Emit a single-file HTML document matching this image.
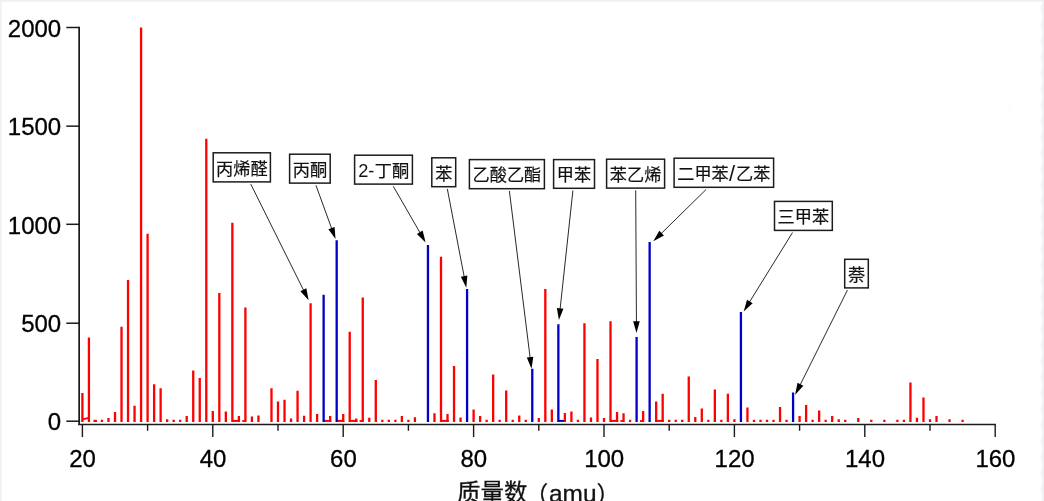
<!DOCTYPE html>
<html><head><meta charset="utf-8"><title>Mass spectrum</title>
<style>
html,body{margin:0;padding:0;background:#fff;}
body{width:1044px;height:501px;overflow:hidden;position:relative;font-family:"Liberation Sans",sans-serif;}
</style></head><body>
<svg width="1044" height="501" viewBox="0 0 1044 501" style="position:absolute;left:0;top:0;will-change:transform"><rect x="0" y="0" width="1044" height="501" fill="#eef0f2"/><rect x="1.6" y="1.8" width="1040.7" height="501" fill="#ffffff"/><path d="M232.36 420.9H240.03" stroke="#ff0000" stroke-width="2" fill="none"/><path d="M323.64 420.9H331.31" stroke="#ff0000" stroke-width="2" fill="none"/><path d="M336.68 420.9H344.35" stroke="#ff0000" stroke-width="2" fill="none"/><path d="M349.72 420.9H357.39" stroke="#ff0000" stroke-width="2" fill="none"/><path d="M441.00 420.9H448.67" stroke="#ff0000" stroke-width="2" fill="none"/><path d="M558.36 420.9H566.03" stroke="#0000c8" stroke-width="2" fill="none"/><path d="M610.52 420.9H618.19" stroke="#ff0000" stroke-width="2" fill="none"/><path d="M656.16 420.9H663.83" stroke="#ff0000" stroke-width="2" fill="none"/><path d="M242.20 421.0H245.40" stroke="#ff0000" stroke-width="1.8" fill="none"/><path d="M359.56 421.0H362.76" stroke="#ff0000" stroke-width="1.8" fill="none"/><path d="M620.36 421.0H623.56" stroke="#ff0000" stroke-width="1.8" fill="none"/><path d="M639.92 421.0H643.12" stroke="#ff0000" stroke-width="1.8" fill="none"/><path d="M82.40 422.0V393.05M88.92 422.0V337.54M95.44 422.0V419.63M101.96 422.0V419.80M108.48 422.0V418.05M115.00 422.0V411.95M121.52 422.0V326.71M128.04 422.0V280.06M134.56 422.0V405.65M141.08 422.0V27.50M147.60 422.0V233.80M154.12 422.0V384.19M160.64 422.0V388.13M167.16 422.0V419.23M173.68 422.0V419.80M180.20 422.0V419.80M186.72 422.0V416.08M193.24 422.0V370.61M199.76 422.0V378.09M206.28 422.0V138.72M212.80 422.0V410.96M219.32 422.0V293.05M225.84 422.0V411.55M232.36 422.0V222.78M238.88 422.0V416.08M245.40 422.0V307.42M251.92 422.0V416.48M258.44 422.0V415.49M271.48 422.0V388.13M278.00 422.0V401.51M284.52 422.0V399.74M291.04 422.0V418.44M297.56 422.0V390.69M304.08 422.0V415.69M310.60 422.0V303.29M317.12 422.0V414.11M330.16 422.0V416.08M343.20 422.0V414.11M349.72 422.0V331.83M356.24 422.0V418.44M362.76 422.0V297.38M369.28 422.0V417.66M375.80 422.0V380.06M382.32 422.0V419.80M388.84 422.0V419.80M395.36 422.0V419.80M401.88 422.0V416.08M408.40 422.0V419.80M414.92 422.0V417.26M434.48 422.0V413.33M441.00 422.0V256.63M447.52 422.0V414.11M454.04 422.0V366.08M460.56 422.0V417.46M473.60 422.0V409.59M480.12 422.0V416.08M486.64 422.0V419.80M493.16 422.0V374.55M499.68 422.0V419.63M506.20 422.0V390.49M512.72 422.0V419.80M519.24 422.0V415.49M525.76 422.0V419.80M538.80 422.0V418.05M545.32 422.0V288.92M551.84 422.0V409.59M564.88 422.0V412.93M571.40 422.0V411.55M577.92 422.0V419.80M584.44 422.0V323.17M590.96 422.0V417.46M597.48 422.0V359.00M604.00 422.0V418.05M610.52 422.0V321.20M617.04 422.0V411.95M623.56 422.0V413.33M630.08 422.0V419.63M643.12 422.0V410.96M656.16 422.0V401.51M662.68 422.0V393.64M669.20 422.0V419.63M675.72 422.0V419.80M682.24 422.0V419.80M688.76 422.0V376.52M695.28 422.0V417.07M701.80 422.0V408.60M708.32 422.0V419.80M714.84 422.0V389.51M721.36 422.0V419.80M727.88 422.0V393.64M734.40 422.0V419.23M747.44 422.0V407.62M753.96 422.0V419.80M760.48 422.0V419.80M767.00 422.0V419.80M773.52 422.0V419.80M780.04 422.0V407.03M786.56 422.0V419.80M799.60 422.0V416.08M806.12 422.0V405.06M812.64 422.0V419.63M819.16 422.0V410.57M825.68 422.0V419.80M832.20 422.0V416.08M838.72 422.0V419.23M845.24 422.0V419.80M858.28 422.0V418.05M871.32 422.0V419.80M884.36 422.0V419.80M897.40 422.0V419.80M903.92 422.0V419.80M910.44 422.0V382.62M916.96 422.0V417.66M923.48 422.0V397.58M930.00 422.0V419.23M936.52 422.0V416.08M949.56 422.0V419.23M962.60 422.0V419.80" stroke="#ff0000" stroke-width="2.3" fill="none" stroke-linecap="butt"/><path d="M323.64 422.0V294.63M336.68 422.0V240.29M427.96 422.0V245.02M467.08 422.0V289.11M532.28 422.0V368.64M558.36 422.0V324.35M636.60 422.0V336.95M649.64 422.0V242.07M740.92 422.0V311.95M793.08 422.0V392.46" stroke="#0000c8" stroke-width="2.3" fill="none" stroke-linecap="butt"/><path d="M82.40 419.4L88.92 417.8" stroke="#ff0000" stroke-width="1.8" fill="none"/><path d="M93.44 421.0H96.94" stroke="#ff0000" stroke-width="2" fill="none"/><path d="M79.15 26.8V425.09999999999997" stroke="#1a1a1a" stroke-width="1.7" fill="none"/><path d="M78.30000000000001 424.45H995.9" stroke="#1a1a1a" stroke-width="1.4" fill="none"/><path d="M66.3 421.20H79.15" stroke="#1a1a1a" stroke-width="1.5" fill="none"/><path d="M66.3 323.20H79.15" stroke="#1a1a1a" stroke-width="1.5" fill="none"/><path d="M66.3 224.30H79.15" stroke="#1a1a1a" stroke-width="1.5" fill="none"/><path d="M66.3 126.15H79.15" stroke="#1a1a1a" stroke-width="1.5" fill="none"/><path d="M66.3 27.50H79.15" stroke="#1a1a1a" stroke-width="1.5" fill="none"/><path d="M82.40 424.45V437.05" stroke="#1a1a1a" stroke-width="1.4" fill="none"/><path d="M147.60 424.45V430.75" stroke="#1a1a1a" stroke-width="1.4" fill="none"/><path d="M212.80 424.45V437.05" stroke="#1a1a1a" stroke-width="1.4" fill="none"/><path d="M278.00 424.45V430.75" stroke="#1a1a1a" stroke-width="1.4" fill="none"/><path d="M343.20 424.45V437.05" stroke="#1a1a1a" stroke-width="1.4" fill="none"/><path d="M408.40 424.45V430.75" stroke="#1a1a1a" stroke-width="1.4" fill="none"/><path d="M473.60 424.45V437.05" stroke="#1a1a1a" stroke-width="1.4" fill="none"/><path d="M538.80 424.45V430.75" stroke="#1a1a1a" stroke-width="1.4" fill="none"/><path d="M604.00 424.45V437.05" stroke="#1a1a1a" stroke-width="1.4" fill="none"/><path d="M669.20 424.45V430.75" stroke="#1a1a1a" stroke-width="1.4" fill="none"/><path d="M734.40 424.45V437.05" stroke="#1a1a1a" stroke-width="1.4" fill="none"/><path d="M799.60 424.45V430.75" stroke="#1a1a1a" stroke-width="1.4" fill="none"/><path d="M864.80 424.45V437.05" stroke="#1a1a1a" stroke-width="1.4" fill="none"/><path d="M930.00 424.45V430.75" stroke="#1a1a1a" stroke-width="1.4" fill="none"/><path d="M995.20 424.45V437.05" stroke="#1a1a1a" stroke-width="1.4" fill="none"/><g font-family="Liberation Sans, sans-serif" font-size="24.0" fill="#000" stroke="#000" stroke-width="0.3"><text x="61.2" y="430.40" text-anchor="end">0</text><text x="61.2" y="332.40" text-anchor="end">500</text><text x="61.2" y="233.50" text-anchor="end">1000</text><text x="61.2" y="135.35" text-anchor="end">1500</text><text x="61.2" y="36.70" text-anchor="end">2000</text><text x="82.60" y="467.3" text-anchor="middle">20</text><text x="213.00" y="467.3" text-anchor="middle">40</text><text x="343.40" y="467.3" text-anchor="middle">60</text><text x="473.80" y="467.3" text-anchor="middle">80</text><text x="604.20" y="467.3" text-anchor="middle">100</text><text x="734.60" y="467.3" text-anchor="middle">120</text><text x="865.00" y="467.3" text-anchor="middle">140</text><text x="995.40" y="467.3" text-anchor="middle">160</text></g><path d="M250.75 184.10L304.28 291.62" stroke="#111" stroke-width="0.9" fill="none"/><path d="M308.60 300.30L300.43 291.30L306.34 288.36Z" fill="#000"/><path d="M315.95 185.30L332.19 229.98" stroke="#111" stroke-width="0.9" fill="none"/><path d="M335.50 239.10L328.40 229.23L334.61 226.98Z" fill="#000"/><path d="M393.30 186.30L420.76 233.99" stroke="#111" stroke-width="0.9" fill="none"/><path d="M425.60 242.40L416.90 233.91L422.62 230.61Z" fill="#000"/><path d="M447.33 188.90L464.47 278.17" stroke="#111" stroke-width="0.9" fill="none"/><path d="M466.30 287.70L460.85 276.83L467.34 275.59Z" fill="#000"/><path d="M509.39 190.90L530.30 359.17" stroke="#111" stroke-width="0.9" fill="none"/><path d="M531.50 368.80L526.78 357.60L533.33 356.78Z" fill="#000"/><path d="M572.92 190.50L559.94 310.46" stroke="#111" stroke-width="0.9" fill="none"/><path d="M558.90 320.10L556.88 308.11L563.44 308.82Z" fill="#000"/><path d="M635.70 190.30L636.45 323.20" stroke="#111" stroke-width="0.9" fill="none"/><path d="M636.50 332.90L633.13 321.22L639.73 321.18Z" fill="#000"/><path d="M706.09 189.50L660.22 234.51" stroke="#111" stroke-width="0.9" fill="none"/><path d="M653.30 241.30L659.34 230.75L663.96 235.46Z" fill="#000"/><path d="M792.47 232.60L748.80 303.15" stroke="#111" stroke-width="0.9" fill="none"/><path d="M743.70 311.40L747.05 299.71L752.66 303.19Z" fill="#000"/><path d="M847.45 290.10L799.53 386.12" stroke="#111" stroke-width="0.9" fill="none"/><path d="M795.20 394.80L797.47 382.86L803.38 385.80Z" fill="#000"/><rect x="213.20" y="152.80" width="57.20" height="29.10" fill="#fff" stroke="#1c1c1c" stroke-width="1.5"/><text font-family="Liberation Sans, Noto Sans CJK SC, sans-serif" font-size="17.2" x="216.00" y="174.64" fill="#111" stroke="#111" stroke-width="0.2">丙烯醛</text><rect x="289.60" y="154.20" width="40.60" height="28.90" fill="#fff" stroke="#1c1c1c" stroke-width="1.5"/><text font-family="Liberation Sans, Noto Sans CJK SC, sans-serif" font-size="17.2" x="292.70" y="175.94" fill="#111" stroke="#111" stroke-width="0.2">丙酮</text><rect x="354.60" y="155.20" width="57.80" height="28.90" fill="#fff" stroke="#1c1c1c" stroke-width="1.5"/><text font-family="Liberation Sans, sans-serif" font-size="18.23" x="363.26" y="176.64" text-anchor="middle" fill="#111">2</text><text font-family="Liberation Sans, sans-serif" font-size="18.23" x="371.29" y="176.64" text-anchor="middle" fill="#111">-</text><text font-family="Liberation Sans, Noto Sans CJK SC, sans-serif" font-size="17.2" x="374.73" y="176.94" fill="#111" stroke="#111" stroke-width="0.2">丁酮</text><rect x="431.80" y="157.80" width="23.90" height="28.90" fill="#fff" stroke="#1c1c1c" stroke-width="1.5"/><text font-family="Liberation Sans, Noto Sans CJK SC, sans-serif" font-size="17.2" x="435.15" y="179.54" fill="#111" stroke="#111" stroke-width="0.2">苯</text><rect x="469.40" y="159.60" width="75.00" height="29.10" fill="#fff" stroke="#1c1c1c" stroke-width="1.5"/><text font-family="Liberation Sans, Noto Sans CJK SC, sans-serif" font-size="17.2" x="472.50" y="181.44" fill="#111" stroke="#111" stroke-width="0.2">乙酸乙酯</text><rect x="553.60" y="159.60" width="40.90" height="28.70" fill="#fff" stroke="#1c1c1c" stroke-width="1.5"/><text font-family="Liberation Sans, Noto Sans CJK SC, sans-serif" font-size="17.2" x="556.85" y="181.24" fill="#111" stroke="#111" stroke-width="0.2">甲苯</text><rect x="606.60" y="159.20" width="58.00" height="28.90" fill="#fff" stroke="#1c1c1c" stroke-width="1.5"/><text font-family="Liberation Sans, Noto Sans CJK SC, sans-serif" font-size="17.2" x="609.80" y="180.94" fill="#111" stroke="#111" stroke-width="0.2">苯乙烯</text><rect x="674.10" y="158.20" width="99.50" height="29.10" fill="#fff" stroke="#1c1c1c" stroke-width="1.5"/><text font-family="Liberation Sans, Noto Sans CJK SC, sans-serif" font-size="17.2" x="677.24" y="180.04" fill="#111" stroke="#111" stroke-width="0.2">二甲苯</text><text font-family="Liberation Sans, sans-serif" font-size="21.84" x="732.15" y="181.44" text-anchor="middle" fill="#111">/</text><text font-family="Liberation Sans, Noto Sans CJK SC, sans-serif" font-size="17.2" x="736.06" y="180.04" fill="#111" stroke="#111" stroke-width="0.2">乙苯</text><rect x="774.50" y="201.40" width="57.80" height="29.00" fill="#fff" stroke="#1c1c1c" stroke-width="1.5"/><text font-family="Liberation Sans, Noto Sans CJK SC, sans-serif" font-size="17.2" x="777.60" y="223.19" fill="#111" stroke="#111" stroke-width="0.2">三甲苯</text><rect x="844.70" y="259.30" width="23.60" height="28.60" fill="#fff" stroke="#1c1c1c" stroke-width="1.5"/><text font-family="Liberation Sans, Noto Sans CJK SC, sans-serif" font-size="17.2" x="847.90" y="280.89" fill="#111" stroke="#111" stroke-width="0.2">萘</text><text font-family="Liberation Sans, Noto Sans CJK SC, sans-serif" font-size="23.5" x="456.90" y="500.80" fill="#111" stroke="#111" stroke-width="0.3">质量数</text><text font-family="Liberation Sans, Noto Sans CJK SC, sans-serif" font-size="23.5" x="524.80" y="503.00" fill="#111" stroke="#111" stroke-width="0.3">（</text><text font-family="Liberation Sans, sans-serif" font-size="24" x="549.0" y="501.6" fill="#111" stroke="#111" stroke-width="0.3" textLength="47.5" lengthAdjust="spacingAndGlyphs">amu</text><text font-family="Liberation Sans, Noto Sans CJK SC, sans-serif" font-size="23.5" x="596.40" y="503.00" fill="#111" stroke="#111" stroke-width="0.3">）</text><path d="M1041.6 5V501" stroke="#eff0f2" stroke-width="1.4" stroke-dasharray="8 8" fill="none"/><rect x="1009.5" y="109" width="1.2" height="1.6" fill="#f0f0f0"/></svg>
</body></html>
